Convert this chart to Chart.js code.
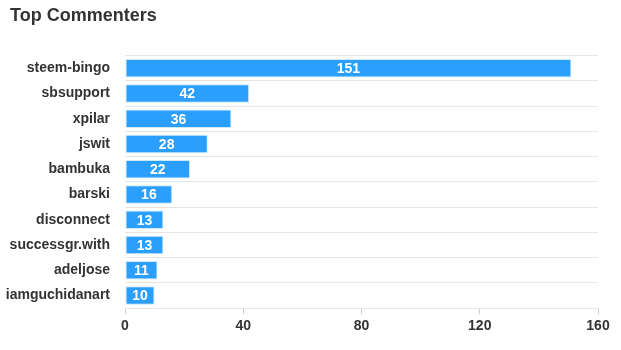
<!DOCTYPE html>
<html>
<head>
<meta charset="utf-8">
<script src="https://cdn.jsdelivr.net/npm/chart.js@4"></script>
<style>
  html, body { margin: 0; padding: 0; background: #ffffff; }
  #wrap { width: 621px; height: 350px; position: relative; }
</style>
</head>
<body>
<div id="wrap"><canvas id="commentersChart"></canvas></div>
<script>
const users = ['steem-bingo', 'sbsupport', 'xpilar', 'jswit', 'bambuka', 'barski', 'disconnect', 'successgr.with', 'adeljose', 'iamguchidanart'];
const comments = [151, 42, 36, 28, 22, 16, 13, 13, 11, 10];
const xTicks = [0, 40, 80, 120, 160];

const fontFamily = '"Liberation Sans", Arial, Helvetica, sans-serif';

// valeurs écrites au centre de chaque barre
const barLabels = {
    id: 'barLabels',
    afterDatasetsDraw(chart) {
        const ctx = chart.ctx;
        const meta = chart.getDatasetMeta(0);
        ctx.save();
        ctx.font = 'bold 14px ' + fontFamily;
        ctx.fillStyle = '#ffffff';
        ctx.textAlign = 'center';
        ctx.textBaseline = 'middle';
        meta.data.forEach(function(bar, i) {
            const cx = (bar.x + bar.base) / 2;
            ctx.fillText(String(comments[i]), cx, bar.y + 1);
        });
        ctx.restore();
    }
};

// décale le titre vers la droite (le padding gauche est réduit pour les libellés)
const titleShift = {
    id: 'titleShift',
    afterLayout(chart) {
        if (chart.titleBlock) {
            chart.titleBlock.left = 10;
        }
    }
};

const ctx = document.getElementById('commentersChart').getContext('2d');
new Chart(ctx, {
    type: 'bar',
    data: {
        labels: users,
        datasets: [{
            data: comments,
            backgroundColor: '#2b9ffe',
            borderColor: '#cfe8ff',
            borderWidth: 1,
            borderSkipped: false,
            barPercentage: 0.73,
            categoryPercentage: 1
        }]
    },
    options: {
        indexAxis: 'y',
        responsive: true,
        maintainAspectRatio: false,
        animation: false,
        layout: {
            padding: { left: 2, right: 23, top: 0, bottom: 11 }
        },
        plugins: {
            legend: { display: false },
            tooltip: { enabled: false },
            title: {
                display: true,
                text: 'Top Commenters',
                align: 'start',
                color: '#333333',
                font: { family: fontFamily, size: 18, weight: 'bold' },
                padding: { top: 5, bottom: 29 }
            }
        },
        scales: {
            x: {
                min: 0,
                max: 160,
                afterBuildTicks: function(axis) {
                    axis.ticks = xTicks.map(v => ({ value: v }));
                },
                grid: {
                    drawOnChartArea: false,
                    drawTicks: true,
                    tickLength: 6,
                    color: '#cccccc'
                },
                border: { display: true, color: '#e6e6e6' },
                ticks: {
                    color: '#333333',
                    padding: 4,
                    font: { family: fontFamily, size: 14, weight: 'bold' }
                }
            },
            y: {
                afterFit: function(axis) {
                    axis.width = 123;
                },
                grid: {
                    offset: true,
                    drawTicks: false,
                    color: '#e6e6e6'
                },
                border: { display: false },
                ticks: {
                    color: '#333333',
                    padding: 15,
                    font: { family: fontFamily, size: 14, weight: 'bold' }
                }
            }
        }
    },
    plugins: [barLabels, titleShift]
});
</script>
</body>
</html>
